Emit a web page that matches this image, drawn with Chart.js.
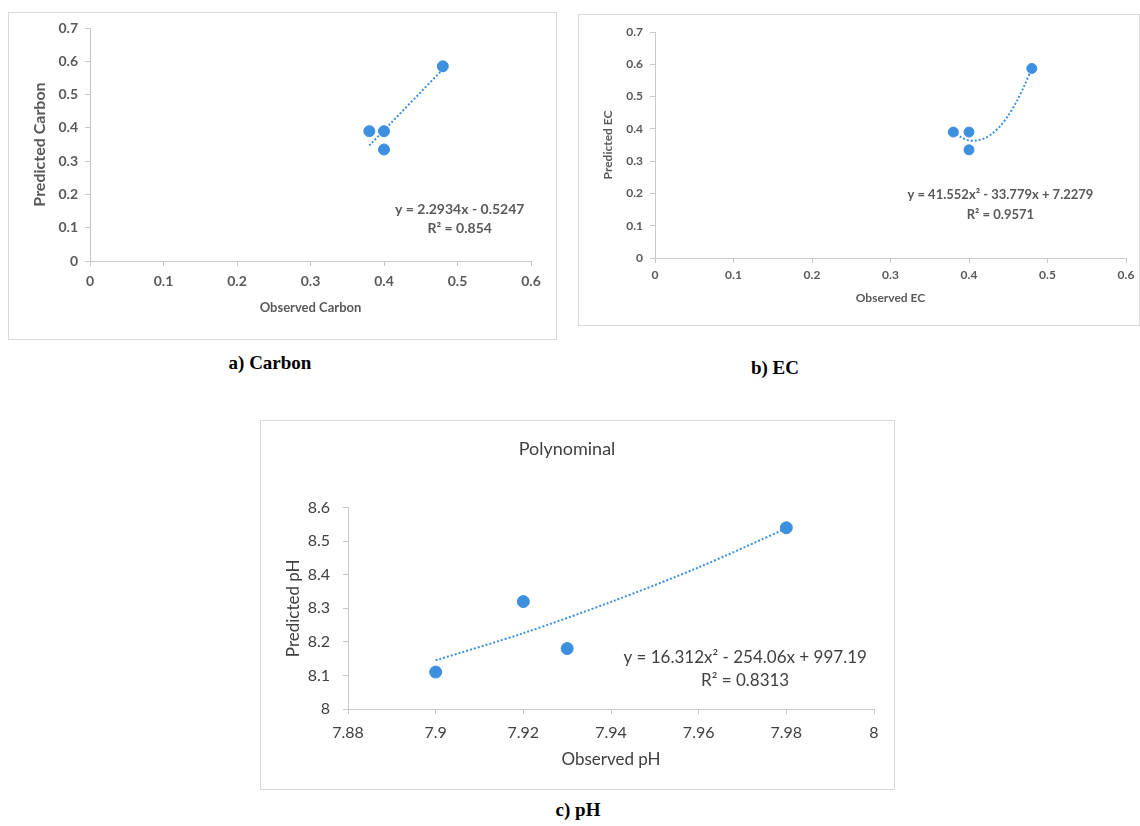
<!DOCTYPE html>
<html>
<head>
<meta charset="utf-8">
<script src="https://cdn.jsdelivr.net/npm/chart.js@4.4.1/dist/chart.umd.min.js"></script>
<style>
  body { margin: 0; background: #fff; width: 1140px; height: 826px; position: relative; overflow: hidden; }
  .box { position: absolute; border: 1px solid #d9d9d9; box-sizing: border-box; }
  .box canvas { position: absolute; left: -1px; top: -1px; }
  .cap { position: absolute; font-family: "Liberation Serif", "Times New Roman", serif; font-weight: bold;
         font-size: 19px; color: #000; transform: translate(-50%, -50%); white-space: nowrap; }
</style>
</head>
<body>
<div class="box" style="left:8px;top:12px;width:549px;height:328px">
  <canvas id="carbonChart" width="549" height="328"></canvas>
</div>
<div class="cap" style="left:270px;top:363px">a) Carbon</div>

<div class="box" style="left:578px;top:14px;width:562px;height:312px">
  <canvas id="ecChart" width="562" height="312"></canvas>
</div>
<div class="cap" style="left:775px;top:368px">b) EC</div>

<div class="box" style="left:260px;top:420px;width:635px;height:370px">
  <canvas id="phChart" width="635" height="370"></canvas>
</div>
<div class="cap" style="left:578px;top:810px">c) pH</div>

<script>
// a) Carbon
const carbonObserved = [0.38, 0.40, 0.40, 0.48];
const carbonPredicted = [0.39, 0.39, 0.335, 0.585];
const carbonTrendX = [0.38, 0.48];
const carbonTrendY = [0.347, 0.576];

// b) EC
const ecObserved = [0.38, 0.40, 0.40, 0.48];
const ecPredicted = [0.39, 0.39, 0.335, 0.587];
const ecTrendX = [0.38, 0.39, 0.40, 0.41, 0.42, 0.43, 0.44, 0.45, 0.46, 0.47, 0.48];
const ecTrendY = [0.392, 0.374, 0.364, 0.364, 0.371, 0.386, 0.409, 0.441, 0.482, 0.531, 0.587];

// c) pH
const phObserved = [7.90, 7.92, 7.93, 7.98];
const phPredicted = [8.11, 8.32, 8.18, 8.54];
const phTrendX = [7.90, 7.92, 7.94, 7.96, 7.98];
const phTrendY = [8.145, 8.226, 8.319, 8.422, 8.538];

// tick labels
const smallXTicks = [0, 0.1, 0.2, 0.3, 0.4, 0.5, 0.6];
const smallYTicks = [0, 0.1, 0.2, 0.3, 0.4, 0.5, 0.6, 0.7];
const phXTicks = [7.88, 7.90, 7.92, 7.94, 7.96, 7.98, 8.00];
const phYTicks = [8.0, 8.1, 8.2, 8.3, 8.4, 8.5, 8.6];

const BLUE = '#3d8fe0';
const AXIS = '#c8c8c8';

// writes the trendline equation + R² at a data position
const eqLabel = {
  id: 'eqLabel',
  afterDatasetsDraw(chart, args, opts) {
    const { ctx, scales: { x, y } } = chart;
    ctx.save();
    ctx.font = opts.font;
    ctx.fillStyle = opts.color;
    ctx.textAlign = 'center';
    ctx.textBaseline = 'middle';
    const px = x.getPixelForValue(opts.x);
    const py = y.getPixelForValue(opts.y);
    opts.lines.forEach((t, i) => ctx.fillText(t, px, py + i * opts.gap));
    ctx.restore();
  }
};

function toPoints(xs, ys) {
  return xs.map((v, i) => ({ x: v, y: ys[i] }));
}

function buildChart(id, c) {
  const tickFont = { family: 'Lato', size: c.tickSize, weight: c.weight };
  const titleFont = { family: 'Lato', size: c.titleSize, weight: c.weight };
  return new Chart(document.getElementById(id), {
    type: 'scatter',
    data: {
      datasets: [
        {
          data: toPoints(c.obs, c.pred),
          backgroundColor: BLUE,
          borderColor: BLUE,
          pointRadius: c.radius,
          pointHoverRadius: c.radius
        },
        {
          data: toPoints(c.trendX, c.trendY),
          showLine: true,
          borderColor: BLUE,
          borderWidth: 2,
          borderDash: [2, 2],
          pointRadius: 0,
          tension: 0.3
        }
      ]
    },
    options: {
      responsive: false,
      animation: false,
      devicePixelRatio: 1,
      layout: { padding: c.padding },
      plugins: {
        legend: { display: false },
        tooltip: { enabled: false },
        title: c.title ? {
          display: true,
          text: c.title,
          color: c.color,
          font: { family: 'Lato', size: 18, weight: 'normal' },
          padding: { top: 18, bottom: 48 }
        } : { display: false },
        eqLabel: c.eq
      },
      scales: {
        x: {
          type: 'linear',
          min: c.xTicks[0],
          max: c.xTicks[c.xTicks.length - 1],
          afterBuildTicks: s => { s.ticks = c.xTicks.map(v => ({ value: v })); },
          afterFit: s => { s.height = c.xHeight; },
          ticks: { color: c.color, font: tickFont, padding: c.xPad, callback: v => String(+v.toFixed(2)) },
          grid: { drawOnChartArea: false, color: AXIS, tickLength: 5 },
          border: { color: AXIS, width: 1 },
          title: { display: true, text: c.xTitle, color: c.color, font: titleFont, padding: { top: 0, bottom: c.xTitlePad } }
        },
        y: {
          type: 'linear',
          min: c.yTicks[0],
          max: c.yTicks[c.yTicks.length - 1],
          afterBuildTicks: s => { s.ticks = c.yTicks.map(v => ({ value: v })); },
          afterFit: s => { s.width = c.yWidth; },
          ticks: { color: c.color, font: tickFont, padding: c.yPad, callback: v => String(+v.toFixed(2)) },
          grid: { drawOnChartArea: false, color: AXIS, tickLength: 5 },
          border: { color: AXIS, width: 1 },
          title: { display: true, text: c.yTitle, color: c.color, font: { ...titleFont, size: c.yTitleSize }, padding: { top: c.yTitlePad, bottom: 0 } }
        }
      }
    },
    plugins: [eqLabel]
  });
}

buildChart('carbonChart', {
  obs: carbonObserved, pred: carbonPredicted, trendX: carbonTrendX, trendY: carbonTrendY,
  xTicks: smallXTicks, yTicks: smallYTicks,
  xTitle: 'Observed Carbon', yTitle: 'Predicted Carbon',
  tickSize: 14, titleSize: 13, yTitleSize: 16, weight: 'bold', color: '#595959',
  padding: { top: 16, right: 26, left: 0, bottom: 0 },
  xHeight: 79, yWidth: 82, xPad: 7, yPad: 7, xTitlePad: 24, yTitlePad: 22,
  radius: 5.5,
  eq: { x: 0.503, y: 0.156, gap: 19, font: 'bold 14px Lato', color: '#595959', lines: ['y = 2.2934x - 0.5247', 'R² = 0.854'] }
});

buildChart('ecChart', {
  obs: ecObserved, pred: ecPredicted, trendX: ecTrendX, trendY: ecTrendY,
  xTicks: smallXTicks, yTicks: smallYTicks,
  xTitle: 'Observed EC', yTitle: 'Predicted EC',
  tickSize: 12, titleSize: 12, yTitleSize: 12, weight: 'bold', color: '#595959',
  padding: { top: 18, right: 14, left: 0, bottom: 0 },
  xHeight: 68, yWidth: 77, xPad: 5, yPad: 7, xTitlePad: 21, yTitlePad: 23,
  radius: 5,
  eq: { x: 0.44, y: 0.195, gap: 20, font: 'bold 13px Lato', color: '#595959', lines: ['y = 41.552x² - 33.779x + 7.2279', 'R² = 0.9571'] }
});

buildChart('phChart', {
  obs: phObserved, pred: phPredicted, trendX: phTrendX, trendY: phTrendY,
  xTicks: phXTicks, yTicks: phYTicks,
  xTitle: 'Observed pH', yTitle: 'Predicted pH', title: 'Polynominal',
  tickSize: 16, titleSize: 17, yTitleSize: 17, weight: 'normal', color: '#404040',
  padding: { top: 0, right: 21, left: 0, bottom: 0 },
  xHeight: 81, yWidth: 88, xPad: 9, yPad: 13, xTitlePad: 20, yTitlePad: 23,
  radius: 6,
  eq: { x: 7.9706, y: 8.152, gap: 23, font: '17px Lato', color: '#404040', lines: ['y = 16.312x² - 254.06x + 997.19', 'R² = 0.8313'] }
});
</script>
</body>
</html>
